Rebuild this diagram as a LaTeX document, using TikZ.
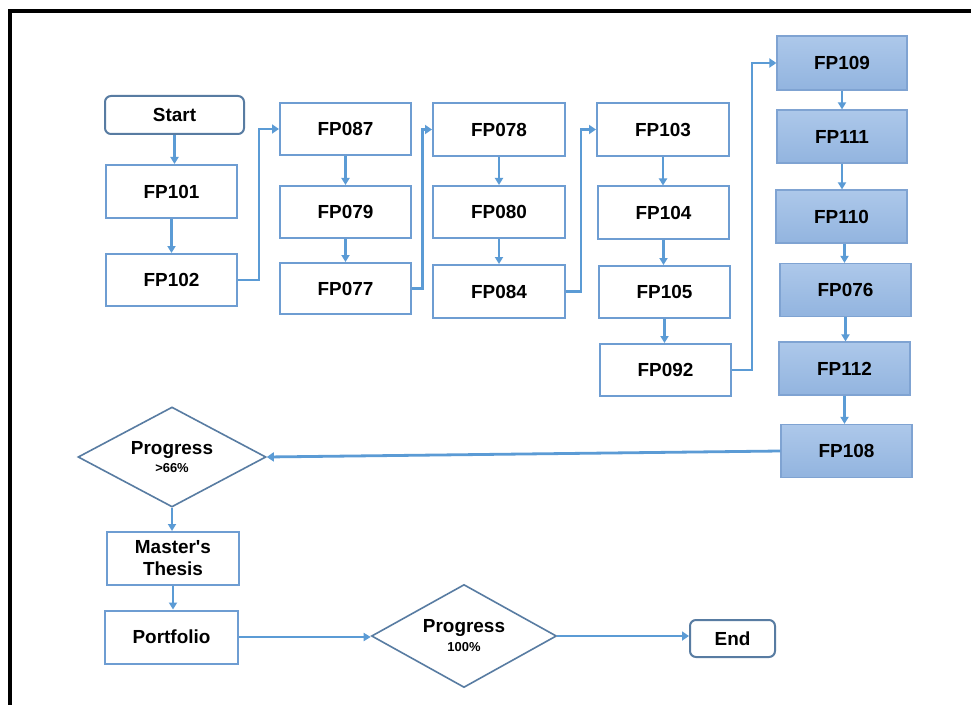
\documentclass[tikz,border=0pt]{standalone}
\usepackage{fontspec}
\setmainfont{Liberation Sans}
\usetikzlibrary{arrows.meta,shapes.geometric}
\definecolor{conn}{HTML}{5B9BD5}
\definecolor{bord}{HTML}{6E9DD2}
\definecolor{slate}{HTML}{587CA2}
\definecolor{fillA}{HTML}{ADC8EA}
\definecolor{fillB}{HTML}{92B4DF}
\definecolor{sbord}{HTML}{7FA3D2}
\begin{document}
\begin{tikzpicture}[x=1bp,y=-1bp,
  lbl/.style={font=\fontsize{19}{22}\selectfont\bfseries, text=black, align=center},
  plainbox/.style={lbl, draw=bord, line width=2bp, fill=white, rectangle, inner sep=0pt, minimum width=131bp, minimum height=52bp},
  shadebox/.style={lbl, draw=sbord, line width=1.2bp, rectangle, top color=fillA, bottom color=fillB, inner sep=0pt, minimum width=131bp, minimum height=53bp},
  termbox/.style={lbl, draw=slate, line width=2bp, rounded corners=6bp, rectangle, fill=white, inner sep=0pt},
  decis/.style={lbl, draw=slate, line width=1.6bp, diamond, aspect=1.85, inner sep=0pt, fill=white},
  arr/.style={draw=conn, line width=2.2bp, -{Triangle[width=8bp,length=7bp]}},
  elb/.style={draw=conn, line width=2.8bp, -{Triangle[width=9bp,length=7bp]}}
]
\useasboundingbox (0,0) rectangle (971,705);
\fill[white] (0,0) rectangle (971,705);
% frame
\draw[line width=3.5bp, black] (8,11) -- (971,11);
\draw[line width=3.5bp, black] (10,9.5) -- (10,705);

% column 1
\node[termbox, minimum width=139bp, minimum height=38bp] (start) at (174.5,115) {Start};
\node[plainbox, minimum height=53bp] (fp101) at (171.5,191.5) {FP101};
\node[plainbox] (fp102) at (171.5,280) {FP102};
% column 2
\node[plainbox] (fp087) at (345.5,129) {FP087};
\node[plainbox] (fp079) at (345.5,212) {FP079};
\node[plainbox, minimum height=51bp] (fp077) at (345.5,288.5) {FP077};
% column 3
\node[plainbox, minimum width=132bp, minimum height=53bp] (fp078) at (499,129.5) {FP078};
\node[plainbox, minimum width=132bp] (fp080) at (499,212) {FP080};
\node[plainbox, minimum width=132bp, minimum height=53bp] (fp084) at (499,291.5) {FP084};
% column 4
\node[plainbox, minimum width=132bp, minimum height=53bp] (fp103) at (663,129.5) {FP103};
\node[plainbox] (fp104) at (663.5,212.5) {FP104};
\node[plainbox] (fp105) at (664.5,292) {FP105};
\node[plainbox] (fp092) at (665.5,370) {FP092};
% column 5 (shaded)
\node[shadebox, minimum width=130bp, minimum height=54bp] (fp109) at (842,63) {FP109};
\node[shadebox, minimum width=130bp] (fp111) at (842,136.5) {FP111};
\node[shadebox] (fp110) at (841.5,216.5) {FP110};
\node[shadebox, minimum height=53bp] (fp076) at (845.5,290) {FP076};
\node[shadebox, minimum height=53bp] (fp112) at (844.5,368.5) {FP112};
\node[shadebox] (fp108) at (846.5,451) {FP108};
% bottom part
\node[decis, minimum width=188bp, minimum height=100bp] (p66) at (172,457)
  {Progress\\[-4bp]{\fontsize{13}{14}\selectfont >66\%}};
\node[plainbox, minimum width=132bp, minimum height=53bp] (thesis) at (173,558.5)
  {Master\textquotesingle s\\[0bp]Thesis};
\node[plainbox, minimum width=133bp, minimum height=53bp] (portf) at (171.5,637) {Portfolio};
\node[decis, minimum width=185bp, minimum height=103bp] (p100) at (464,636)
  {Progress\\[-3bp]{\fontsize{13}{14}\selectfont 100\%}};
\node[termbox, minimum width=85bp, minimum height=37bp] (endn) at (732.5,638.5) {End};

% vertical arrows
\draw[arr] (start.south) -- (start.south |- fp101.north);
\draw[arr] (fp101.south) -- (fp101.south |- fp102.north);
\draw[arr] (fp087.south) -- (fp087.south |- fp079.north);
\draw[arr] (fp079.south) -- (fp079.south |- fp077.north);
\draw[arr] (fp078.south) -- (fp078.south |- fp080.north);
\draw[arr] (fp080.south) -- (fp080.south |- fp084.north);
\draw[arr] (fp103.south) -- (fp103.south |- fp104.north);
\draw[arr] (fp104.south) -- (fp104.south |- fp105.north);
\draw[arr] (fp105.south) -- (fp105.south |- fp092.north);
\draw[arr] (fp109.south) -- (fp109.south |- fp111.north);
\draw[arr] (fp111.south) -- (fp111.south |- fp110.north);
\draw[arr] ([xshift=3bp]fp110.south) -- ([xshift=3bp]fp110.south |- fp076.north);
\draw[arr] (fp076.south) -- (fp076.south |- fp112.north);
\draw[arr] (fp112.south) -- (fp112.south |- fp108.north);
\draw[arr] (p66.south) -- (p66.south |- thesis.north);
\draw[arr] (thesis.south) -- (thesis.south |- portf.north);

% elbow connectors
\draw[elb] (fp102.east) -- ++(21,0) |- (fp087.west);
\draw[elb] (fp077.east) -- ++(10.5,0) |- (fp078.west);
\draw[elb] (fp084.east) -- ++(15,0) |- (fp103.west);
\draw[elb] (fp092.east) -- ++(20,0) |- (fp109.west);

% horizontal connectors
\draw[elb] (fp108.west) -- (p66.east);
\draw[arr] (portf.east) -- (portf.east -| p100.west);
\draw[elb] (p100.east) -- (p100.east -| endn.west);
\end{tikzpicture}
\end{document}
